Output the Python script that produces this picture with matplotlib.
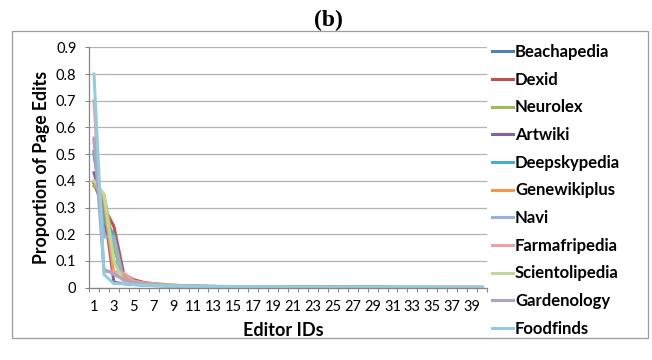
import numpy as np
import matplotlib
matplotlib.use("Agg")
import matplotlib.pyplot as plt
from matplotlib.patches import Rectangle

plt.rcParams["font.family"] = ["Lato", "DejaVu Sans"]

# Share of page edits per editor (editors ranked 1..40), one list per wiki
editor_ids = list(range(1, 41))

beachapedia = [0.51, 0.25, 0.10, 0.04, 0.020, 0.015, 0.012, 0.010, 0.008, 0.007,
               0.006, 0.005, 0.005, 0.004, 0.004, 0.004, 0.003, 0.003, 0.003, 0.003,
               0.003, 0.002, 0.002, 0.002, 0.002, 0.002, 0.002, 0.002, 0.002, 0.002,
               0.001, 0.001, 0.001, 0.001, 0.001, 0.001, 0.001, 0.001, 0.001, 0.001]
dexid = [0.39, 0.30, 0.23, 0.05, 0.030, 0.020, 0.015, 0.010, 0.008, 0.006,
         0.005, 0.005, 0.004, 0.004, 0.003, 0.003, 0.003, 0.003, 0.002, 0.002,
         0.002, 0.002, 0.002, 0.002, 0.002, 0.001, 0.001, 0.001, 0.001, 0.001,
         0.001, 0.001, 0.001, 0.001, 0.001, 0.001, 0.001, 0.001, 0.001, 0.001]
neurolex = [0.38, 0.35, 0.15, 0.03, 0.020, 0.016, 0.015, 0.013, 0.010, 0.008,
            0.007, 0.006, 0.005, 0.005, 0.004, 0.004, 0.004, 0.003, 0.003, 0.003,
            0.003, 0.003, 0.002, 0.002, 0.002, 0.002, 0.002, 0.002, 0.002, 0.002,
            0.002, 0.001, 0.001, 0.001, 0.001, 0.001, 0.001, 0.001, 0.001, 0.001]
artwiki = [0.43, 0.30, 0.02, 0.015, 0.012, 0.010, 0.008, 0.007, 0.006, 0.005,
           0.004, 0.004, 0.003, 0.003, 0.003, 0.003, 0.002, 0.002, 0.002, 0.002,
           0.002, 0.002, 0.002, 0.001, 0.001, 0.001, 0.001, 0.001, 0.001, 0.001,
           0.001, 0.001, 0.001, 0.001, 0.001, 0.001, 0.001, 0.001, 0.001, 0.001]
deepskypedia = [0.50, 0.25, 0.20, 0.03, 0.020, 0.012, 0.010, 0.008, 0.007, 0.006,
                0.005, 0.004, 0.004, 0.003, 0.003, 0.003, 0.003, 0.002, 0.002, 0.002,
                0.002, 0.002, 0.002, 0.002, 0.001, 0.001, 0.001, 0.001, 0.001, 0.001,
                0.001, 0.001, 0.001, 0.001, 0.001, 0.001, 0.001, 0.001, 0.001, 0.001]
genewikiplus = [0.40, 0.33, 0.05, 0.04, 0.020, 0.012, 0.010, 0.008, 0.006, 0.005,
                0.005, 0.004, 0.004, 0.003, 0.003, 0.003, 0.002, 0.002, 0.002, 0.002,
                0.002, 0.002, 0.001, 0.001, 0.001, 0.001, 0.001, 0.001, 0.001, 0.001,
                0.001, 0.001, 0.001, 0.001, 0.001, 0.001, 0.001, 0.001, 0.001, 0.001]
navi = [0.55, 0.19, 0.19, 0.02, 0.012, 0.010, 0.008, 0.007, 0.006, 0.005,
        0.004, 0.004, 0.003, 0.003, 0.003, 0.002, 0.002, 0.002, 0.002, 0.002,
        0.002, 0.001, 0.001, 0.001, 0.001, 0.001, 0.001, 0.001, 0.001, 0.001,
        0.001, 0.001, 0.001, 0.001, 0.001, 0.001, 0.001, 0.001, 0.001, 0.001]
farmafripedia = [0.70, 0.06, 0.06, 0.055, 0.025, 0.018, 0.014, 0.011, 0.009, 0.007,
                 0.006, 0.005, 0.005, 0.004, 0.004, 0.003, 0.003, 0.003, 0.003, 0.002,
                 0.002, 0.002, 0.002, 0.002, 0.002, 0.002, 0.001, 0.001, 0.001, 0.001,
                 0.001, 0.001, 0.001, 0.001, 0.001, 0.001, 0.001, 0.001, 0.001, 0.001]
scientolipedia = [0.40, 0.35, 0.10, 0.02, 0.015, 0.012, 0.010, 0.008, 0.007, 0.006,
                  0.005, 0.004, 0.004, 0.004, 0.003, 0.003, 0.003, 0.002, 0.002, 0.002,
                  0.002, 0.002, 0.002, 0.002, 0.001, 0.001, 0.001, 0.001, 0.001, 0.001,
                  0.001, 0.001, 0.001, 0.001, 0.001, 0.001, 0.001, 0.001, 0.001, 0.001]
gardenology = [0.56, 0.07, 0.05, 0.03, 0.020, 0.015, 0.012, 0.010, 0.008, 0.007,
               0.006, 0.005, 0.004, 0.004, 0.004, 0.003, 0.003, 0.003, 0.002, 0.002,
               0.002, 0.002, 0.002, 0.002, 0.002, 0.001, 0.001, 0.001, 0.001, 0.001,
               0.001, 0.001, 0.001, 0.001, 0.001, 0.001, 0.001, 0.001, 0.001, 0.001]
foodfinds = [0.80, 0.05, 0.015, 0.015, 0.012, 0.010, 0.009, 0.008, 0.007, 0.006,
             0.005, 0.005, 0.004, 0.004, 0.004, 0.003, 0.003, 0.003, 0.003, 0.003,
             0.002, 0.002, 0.002, 0.002, 0.002, 0.002, 0.002, 0.002, 0.002, 0.002,
             0.002, 0.002, 0.002, 0.002, 0.002, 0.001, 0.001, 0.001, 0.001, 0.001]

wiki_names = ["Beachapedia", "Dexid", "Neurolex", "Artwiki", "Deepskypedia",
              "Genewikiplus", "Navi", "Farmafripedia", "Scientolipedia",
              "Gardenology", "Foodfinds"]
wiki_series = [beachapedia, dexid, neurolex, artwiki, deepskypedia, genewikiplus,
               navi, farmafripedia, scientolipedia, gardenology, foodfinds]
wiki_colors = ["#4F81BD", "#C0504D", "#9BBB59", "#8064A2", "#4BACC6", "#F79646",
               "#95B3D7", "#E6A3A1", "#C3D69B", "#B3A2C7", "#93CDDD"]

fig = plt.figure(figsize=(6.52, 3.6), dpi=100)
ax = fig.add_axes([0.1365, 0.2008, 0.6105, 0.6678])

# outer chart frame
fig.patches.append(Rectangle((12 / 652, 1 - 338 / 360), 636 / 652, 307 / 360,
                             transform=fig.transFigure, fill=False,
                             edgecolor="#9C9C9C", linewidth=0.9))

for name, vals, col in zip(wiki_names, wiki_series, wiki_colors):
    ax.plot(editor_ids, vals, color=col, linewidth=2.2, label=name,
            solid_joinstyle="round")

ax.set_xlim(0.5, 40.5)
ax.set_ylim(0, 0.9)
ax.set_yticks(np.arange(0, 0.91, 0.1))
ax.set_yticklabels(["0"] + [f"{v:.1f}" for v in np.arange(0.1, 0.91, 0.1)])
ax.set_xticks(editor_ids[::2])
ax.set_xticks(np.arange(0.5, 41, 1), minor=True)
ax.tick_params(axis="x", which="major", length=0, labelsize=10.5, pad=9)
ax.tick_params(axis="x", which="minor", length=3, color="#868686", width=0.8)
ax.tick_params(axis="y", length=3, color="#868686", width=0.8, labelsize=10.5, pad=6)

ax.grid(axis="y", color="#B3B3B3", linewidth=0.9)
ax.set_axisbelow(True)
for side in ("top", "right"):
    ax.spines[side].set_visible(False)
for side in ("left", "bottom"):
    ax.spines[side].set_color("#868686")
    ax.spines[side].set_linewidth(0.9)

ax.set_xlabel("Editor IDs", fontsize=13, fontweight="bold")
ax.xaxis.set_label_coords(0.487, -0.143)
ax.set_ylabel("Proportion of Page Edits", fontsize=12.7, fontweight="bold", labelpad=4)

fig.text(328 / 652, 1 - 20 / 360, "(b)", ha="center", va="center",
         fontsize=17, fontweight="bold", family="Liberation Serif")

ax.legend(loc="upper left", bbox_to_anchor=(1.0126, 1.0135), frameon=False,
          prop={"weight": "bold", "size": 12}, borderpad=0, borderaxespad=0,
          handlelength=1.25, handletextpad=0.12, labelspacing=0.7)

fig.savefig("out.png", dpi=100)
